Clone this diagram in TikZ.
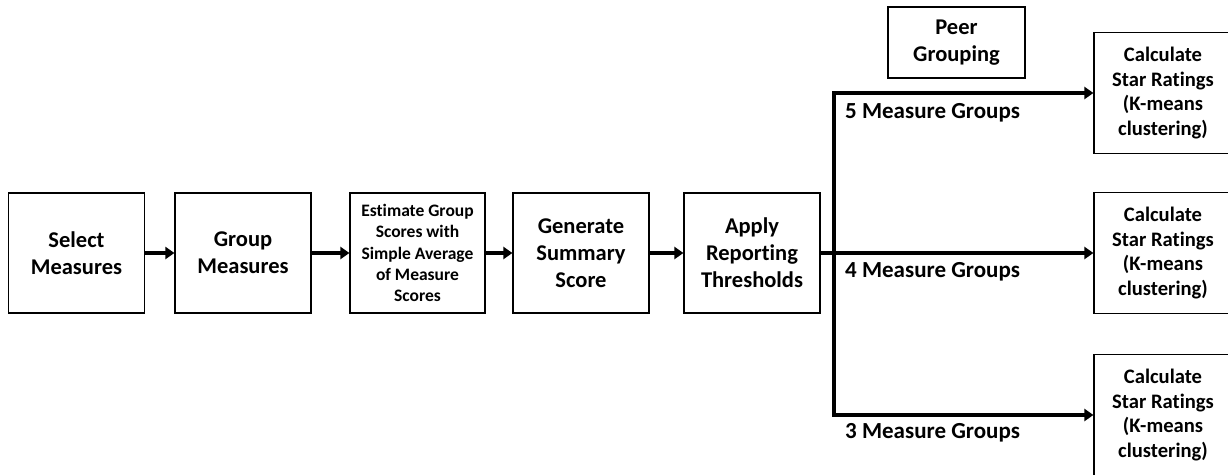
\documentclass[tikz,border=0pt]{standalone}
\usepackage{fontspec}
\setmainfont[Ligatures=NoCommon]{Carlito}
\usetikzlibrary{arrows.meta}
\tikzset{
  box/.style={draw=black, line width=1.2pt, align=center, inner sep=0pt,
    font=\bfseries\fontsize{22.5}{27}\selectfont},
  mainbox/.style={box, minimum width=136pt, minimum height=120pt},
  smallbox/.style={box, minimum width=135pt, minimum height=120pt,
    font=\bfseries\fontsize{17.5}{21.3}\selectfont},
  starbox/.style={box, minimum width=138pt, minimum height=121pt,
    font=\bfseries\fontsize{20.6}{24.5}\selectfont},
  peerbox/.style={box, minimum width=137pt, minimum height=71pt},
  flow/.style={line width=4pt, -{Triangle[length=9pt,width=12pt]}},
  bar/.style={line width=4pt},
  lbl/.style={anchor=west, inner sep=0pt, font=\bfseries\fontsize{23}{27}\selectfont}
}
\begin{document}
\begin{tikzpicture}[x=1pt,y=-1pt]
\useasboundingbox (0,0) rectangle (1228,474);
\clip (0,0) rectangle (1228,474);
\node[mainbox] (sel) at (76.5,253) {\fontsize{22.5}{35}\selectfont Select\\Measures};
\node[mainbox] (grp) at (243,253) {\fontsize{22.5}{35}\selectfont Group\\Measures};
\node[smallbox] (est) at (417.5,253) {Estimate Group\\Scores with\\Simple Average\\of Measure\\Scores};
\node[mainbox] (gen) at (581,253) {Generate\\Summary\\Score};
\node[mainbox] (app) at (752,253) {Apply\\Reporting\\Thresholds};
\node[peerbox] (peer) at (956.5,42.5) {\fontsize{22.5}{31}\selectfont Peer\\Grouping};
\node[starbox] (s5) at (1163,93) {Calculate\\Star Ratings\\(K-means\\clustering)};
\node[starbox] (s4) at (1163,253) {Calculate\\Star Ratings\\(K-means\\clustering)};
\node[starbox] (s3) at (1163,415) {Calculate\\Star Ratings\\(K-means\\clustering)};
\coordinate (jt) at (834,93);
\coordinate (jb) at (834,415);
\draw[flow] (sel) -- (grp);
\draw[flow] (grp) -- (est);
\draw[flow] (est) -- (gen);
\draw[flow] (gen) -- (app);
\draw[flow] (app.east) -- (s4.west);
\draw[bar, line cap=rect] (jt) -- (jb);
\draw[flow] (jt) -- (s5.west);
\draw[flow] (jb) -- (s3.west);
\node[lbl] (l5) at (845,113) {5 Measure Groups};
\node[lbl] (l4) at (845,272) {4 Measure Groups};
\node[lbl] (l3) at (845,433) {3 Measure Groups};
\end{tikzpicture}
\end{document}
